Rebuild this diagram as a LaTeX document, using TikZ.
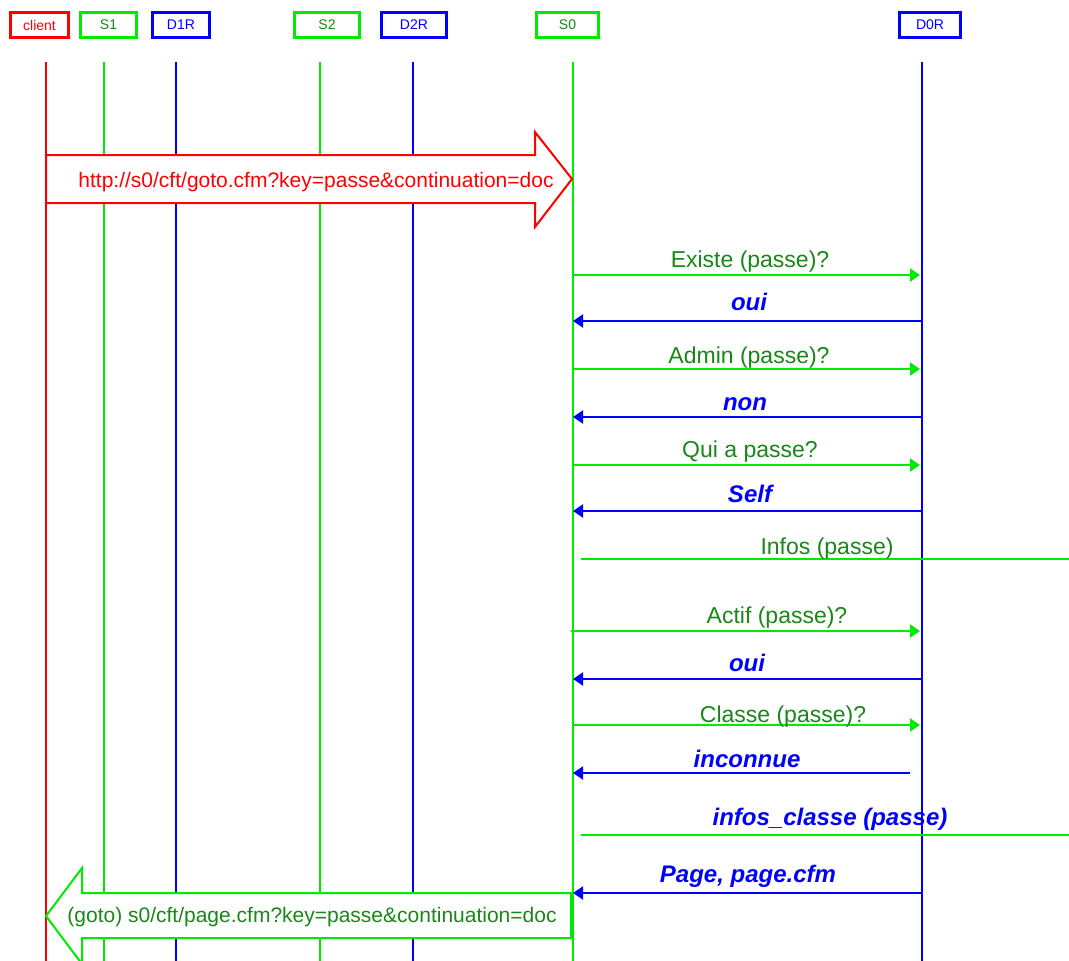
\documentclass[tikz,border=0pt]{standalone}
\usepackage{fontspec}
\setmainfont{Liberation Sans}
\usetikzlibrary{arrows.meta}
\definecolor{lred}{RGB}{255,0,0}
\definecolor{lgreen}{RGB}{0,235,0}
\definecolor{lblue}{RGB}{0,0,255}
\definecolor{tgreen}{RGB}{25,135,25}
\begin{document}
\begin{tikzpicture}[x=1pt,y=-1pt,
  hdr/.style={draw, line width=3pt, fill=white, minimum height=25pt, inner sep=0pt,
    font=\fontsize{14}{14}\selectfont},
  life/.style={line width=1.6pt},
  req/.style={draw=lgreen, line width=2pt, -{Triangle[length=10pt,width=13pt]}},
  rep/.style={draw=lblue, line width=2pt, -{Triangle[length=10pt,width=13pt]}},
  info/.style={draw=lgreen, line width=2pt},
  glab/.style={anchor=base, text=tgreen, inner sep=0pt, font=\fontsize{23}{23}\selectfont},
  blab/.style={anchor=base, text=lblue, inner sep=0pt, font=\fontsize{24}{24}\selectfont\bfseries\itshape},
  bigtxt/.style={anchor=base, inner sep=0pt, font=\fontsize{21}{21}\selectfont},
]
\useasboundingbox[fill=white] (0,0) rectangle (1069,961);

% lifeline coordinates
\coordinate (cl) at (46,62);
\coordinate (s1) at (104,62);
\coordinate (d1) at (176,62);
\coordinate (s2) at (320,62);
\coordinate (d2) at (413,62);
\coordinate (s0) at (573,62);
\coordinate (d0) at (922,62);
\coordinate (cle) at (46,961);
\coordinate (s1e) at (104,961);
\coordinate (d1e) at (176,961);
\coordinate (s2e) at (320,961);
\coordinate (d2e) at (413,961);
\coordinate (s0e) at (573,961);
\coordinate (d0e) at (922,961);
\coordinate (rim) at (1069,62);

% lifelines
\draw[life, lred] (cl) -- (cle);
\draw[life, lgreen] (s1) -- (s1e);
\draw[life, lblue] (d1) -- (d1e);
\draw[life, lgreen] (s2) -- (s2e);
\draw[life, lblue] (d2) -- (d2e);
\draw[life, lgreen] (s0) -- (s0e);
\draw[life, lblue] (d0) -- (d0e);

% headers
\node[hdr, draw=lred, text=lred, minimum width=58pt] (hcl) at (39.5,25) {client};
\node[hdr, draw=lgreen, text=tgreen, minimum width=56pt] (hs1) at (108.5,25) {S1};
\node[hdr, draw=lblue, text=lblue, minimum width=57pt] (hd1) at (181,25) {D1R};
\node[hdr, draw=lgreen, text=tgreen, minimum width=65pt] (hs2) at (327,25) {S2};
\node[hdr, draw=lblue, text=lblue, minimum width=65pt] (hd2) at (414,25) {D2R};
\node[hdr, draw=lgreen, text=tgreen, minimum width=62pt] (hs0) at (567.5,25) {S0};
\node[hdr, draw=lblue, text=lblue, minimum width=61pt] (hd0) at (930,25) {D0R};

% big request arrow
\draw[lred, line width=2pt, fill=white, line join=miter]
  (cl |- 0,155) -- (535,155) -- (535,132) -- (572,179) -- (535,227) -- (535,203) -- (cl |- 0,203) -- cycle;
\node[bigtxt, text=lred] (url1) at (316,187) {http://s0/cft/goto.cfm?key=passe\&continuation=doc};

% messages
\draw[req] (s0 |- 0,275) -- ([xshift=-2pt]d0 |- 0,275);
\node[glab] (l1) at (750,267) {Existe (passe)?};
\draw[rep] (d0 |- 0,321) -- (s0 |- 0,321);
\node[blab] (l2) at (749,310) {oui};
\draw[req] (s0 |- 0,369) -- ([xshift=-2pt]d0 |- 0,369);
\node[glab] (l3) at (749,363) {Admin (passe)?};
\draw[rep] (d0 |- 0,417) -- (s0 |- 0,417);
\node[blab] (l4) at (745,410) {non};
\draw[req] (s0 |- 0,465) -- ([xshift=-2pt]d0 |- 0,465);
\node[glab] (l5) at (750,457) {Qui a passe?};
\draw[rep] (d0 |- 0,511) -- (s0 |- 0,511);
\node[blab] (l6) at (750,502) {Self};
\draw[info] ([xshift=8pt]s0 |- 0,559) -- (rim |- 0,559);
\node[glab] (l7) at (827,554) {Infos (passe)};
\draw[req] ([xshift=-2pt]s0 |- 0,631) -- ([xshift=-2pt]d0 |- 0,631);
\node[glab] (l8) at (777,623) {Actif (passe)?};
\draw[rep] (d0 |- 0,679) -- (s0 |- 0,679);
\node[blab] (l9) at (747,671) {oui};
\draw[req] (s0 |- 0,725) -- ([xshift=-2pt]d0 |- 0,725);
\node[glab] (l10) at (783,722) {Classe (passe)?};
\draw[rep] ([xshift=-12pt]d0 |- 0,773) -- (s0 |- 0,773);
\node[blab] (l11) at (747,767) {inconnue};
\draw[info] ([xshift=8pt]s0 |- 0,835) -- (rim |- 0,835);
\node[blab] (l12) at (830,825) {infos\_classe (passe)};

% big reply arrow
\draw[lgreen, line width=2pt, fill=white, line join=miter]
  (572,893) -- (82,893) -- (82,868) -- (cl |- 0,916) -- (82,964) -- (82,938) -- (572,938);
\draw[lgreen, line width=3.5pt] (572,892) -- (572,939);
\node[bigtxt, text=tgreen] (url2) at (312,922) {(goto) s0/cft/page.cfm?key=passe\&continuation=doc};

\draw[rep] (d0 |- 0,893) -- (s0 |- 0,893);
\node[blab] (l13) at (748,882) {Page, page.cfm};
\end{tikzpicture}
\end{document}
